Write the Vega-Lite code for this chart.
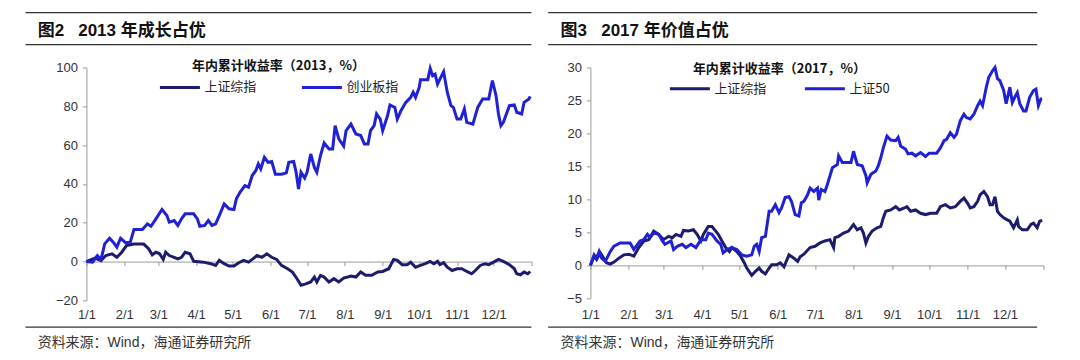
{
"$schema": "https://vega.github.io/schema/vega-lite/v6.json",
"background": "white",
"padding": {"left": 24.4, "top": 11.4, "right": 10, "bottom": 5},
"config": {"view": {"stroke": null}, "font": "Liberation Sans, Noto Sans CJK SC",
  "axis": {"labelFont": "Liberation Sans", "labelFontSize": 13, "labelColor": "#333333", "domainColor": "#9a9a9a", "tickColor": "#9a9a9a", "tickSize": 4, "grid": false, "labelFlush": false, "labelOverlap": false, "title": null, "tickCount": 40}},
"datasets": {
"d2013": [
{"date":"2013-01-01","series":"上证综指","value":0},{"date":"2013-01-08","series":"上证综指","value":1.8},{"date":"2013-01-13","series":"上证综指","value":0.6},{"date":"2013-01-17","series":"上证综指","value":3.1},{"date":"2013-01-22","series":"上证综指","value":4},{"date":"2013-01-26","series":"上证综指","value":2.2},{"date":"2013-01-30","series":"上证综指","value":4.8},{"date":"2013-02-03","series":"上证综指","value":8.3},{"date":"2013-02-09","series":"上证综指","value":9},{"date":"2013-02-17","series":"上证综指","value":9},{"date":"2013-02-21","series":"上证综指","value":6.6},{"date":"2013-02-24","series":"上证综指","value":3.5},{"date":"2013-02-27","series":"上证综指","value":4.8},{"date":"2013-03-02","series":"上证综指","value":4},{"date":"2013-03-05","series":"上证综指","value":1.1},{"date":"2013-03-07","series":"上证综指","value":4.8},{"date":"2013-03-10","series":"上证综指","value":3.1},{"date":"2013-03-14","series":"上证综指","value":2.2},{"date":"2013-03-17","series":"上证综指","value":1.4},{"date":"2013-03-20","series":"上证综指","value":2.2},{"date":"2013-03-23","series":"上证综指","value":4.8},{"date":"2013-03-27","series":"上证综指","value":4},{"date":"2013-03-30","series":"上证综指","value":0.1},{"date":"2013-04-07","series":"上证综指","value":-0.3},{"date":"2013-04-13","series":"上证综指","value":-1.1},{"date":"2013-04-17","series":"上证综指","value":-2},{"date":"2013-04-20","series":"上证综指","value":0.6},{"date":"2013-04-24","series":"上证综指","value":-1.1},{"date":"2013-04-28","series":"上证综指","value":-2.3},{"date":"2013-05-02","series":"上证综指","value":-2.3},{"date":"2013-05-06","series":"上证综指","value":-0.6},{"date":"2013-05-10","series":"上证综指","value":0.6},{"date":"2013-05-14","series":"上证综指","value":-0.3},{"date":"2013-05-17","series":"上证综指","value":1.1},{"date":"2013-05-21","series":"上证综指","value":3.1},{"date":"2013-05-25","series":"上证综指","value":2.2},{"date":"2013-05-29","series":"上证综指","value":4},{"date":"2013-06-02","series":"上证综指","value":2.2},{"date":"2013-06-06","series":"上证综指","value":1.1},{"date":"2013-06-10","series":"上证综指","value":-2},{"date":"2013-06-15","series":"上证综指","value":-3.7},{"date":"2013-06-19","series":"上证综指","value":-5.4},{"date":"2013-06-23","series":"上证综指","value":-9.1},{"date":"2013-06-26","series":"上证综指","value":-12.2},{"date":"2013-06-30","series":"上证综指","value":-11.5},{"date":"2013-07-04","series":"上证综指","value":-10.5},{"date":"2013-07-07","series":"上证综指","value":-8},{"date":"2013-07-09","series":"上证综指","value":-10.5},{"date":"2013-07-12","series":"上证综指","value":-7.1},{"date":"2013-07-15","series":"上证综指","value":-8},{"date":"2013-07-19","series":"上证综指","value":-10.5},{"date":"2013-07-23","series":"上证综指","value":-8.8},{"date":"2013-07-27","series":"上证综指","value":-10.5},{"date":"2013-07-31","series":"上证综指","value":-8.5},{"date":"2013-08-06","series":"上证综指","value":-7.5},{"date":"2013-08-10","series":"上证综指","value":-8},{"date":"2013-08-14","series":"上证综指","value":-5.4},{"date":"2013-08-18","series":"上证综指","value":-7.1},{"date":"2013-08-23","series":"上证综指","value":-7.1},{"date":"2013-08-28","series":"上证综指","value":-5.4},{"date":"2013-09-01","series":"上证综指","value":-5.1},{"date":"2013-09-06","series":"上证综指","value":-3.7},{"date":"2013-09-10","series":"上证综指","value":1.1},{"date":"2013-09-13","series":"上证综指","value":0.6},{"date":"2013-09-17","series":"上证综指","value":-1.6},{"date":"2013-09-21","series":"上证综指","value":-1.6},{"date":"2013-09-24","series":"上证综指","value":-0.3},{"date":"2013-09-28","series":"上证综指","value":-2.9},{"date":"2013-10-02","series":"上证综指","value":-2},{"date":"2013-10-06","series":"上证综指","value":-1.1},{"date":"2013-10-10","series":"上证综指","value":0.1},{"date":"2013-10-13","series":"上证综指","value":-1.1},{"date":"2013-10-16","series":"上证综指","value":0.1},{"date":"2013-10-18","series":"上证综指","value":-1.6},{"date":"2013-10-21","series":"上证综指","value":-0.6},{"date":"2013-10-24","series":"上证综指","value":-2.9},{"date":"2013-10-28","series":"上证综指","value":-4.6},{"date":"2013-11-01","series":"上证综指","value":-3.7},{"date":"2013-11-05","series":"上证综指","value":-3.7},{"date":"2013-11-09","series":"上证综指","value":-5.1},{"date":"2013-11-13","series":"上证综指","value":-6.3},{"date":"2013-11-16","series":"上证综指","value":-4.6},{"date":"2013-11-20","series":"上证综指","value":-2},{"date":"2013-11-24","series":"上证综指","value":-1.1},{"date":"2013-11-27","series":"上证综指","value":-1.6},{"date":"2013-12-01","series":"上证综指","value":-0.3},{"date":"2013-12-05","series":"上证综指","value":1.1},{"date":"2013-12-09","series":"上证综指","value":0.1},{"date":"2013-12-14","series":"上证综指","value":-1.6},{"date":"2013-12-18","series":"上证综指","value":-3.7},{"date":"2013-12-20","series":"上证综指","value":-6.3},{"date":"2013-12-23","series":"上证综指","value":-6.8},{"date":"2013-12-26","series":"上证综指","value":-5.4},{"date":"2013-12-29","series":"上证综指","value":-6.3},{"date":"2013-12-31","series":"上证综指","value":-5.1},
{"date":"2013-01-01","series":"创业板指","value":0},{"date":"2013-01-06","series":"创业板指","value":-0.3},{"date":"2013-01-10","series":"创业板指","value":3.1},{"date":"2013-01-13","series":"创业板指","value":1},{"date":"2013-01-16","series":"创业板指","value":9.1},{"date":"2013-01-20","series":"创业板指","value":12},{"date":"2013-01-23","series":"创业板指","value":10},{"date":"2013-01-26","series":"创业板指","value":7.4},{"date":"2013-01-29","series":"创业板指","value":12},{"date":"2013-02-02","series":"创业板指","value":9.7},{"date":"2013-02-06","series":"创业板指","value":10},{"date":"2013-02-09","series":"创业板指","value":16.5},{"date":"2013-02-16","series":"创业板指","value":16.5},{"date":"2013-02-20","series":"创业板指","value":19.4},{"date":"2013-02-23","series":"创业板指","value":18.2},{"date":"2013-02-27","series":"创业板指","value":22},{"date":"2013-03-04","series":"创业板指","value":26.8},{"date":"2013-03-08","series":"创业板指","value":23.7},{"date":"2013-03-10","series":"创业板指","value":20.3},{"date":"2013-03-14","series":"创业板指","value":21.1},{"date":"2013-03-17","series":"创业板指","value":18.6},{"date":"2013-03-20","series":"创业板指","value":22},{"date":"2013-03-23","series":"创业板指","value":24.6},{"date":"2013-03-30","series":"创业板指","value":24.6},{"date":"2013-04-02","series":"创业板指","value":22},{"date":"2013-04-04","series":"创业板指","value":18.2},{"date":"2013-04-08","series":"创业板指","value":18.6},{"date":"2013-04-11","series":"创业板指","value":21.1},{"date":"2013-04-14","series":"创业板指","value":18.6},{"date":"2013-04-17","series":"创业板指","value":19.4},{"date":"2013-04-20","series":"创业板指","value":23.7},{"date":"2013-04-24","series":"创业板指","value":29.7},{"date":"2013-04-28","series":"创业板指","value":27.2},{"date":"2013-05-02","series":"创业板指","value":26.8},{"date":"2013-05-04","series":"创业板指","value":32.3},{"date":"2013-05-07","series":"创业板指","value":35.7},{"date":"2013-05-11","series":"创业板指","value":39.1},{"date":"2013-05-14","series":"创业板指","value":38.3},{"date":"2013-05-17","series":"创业板指","value":44.3},{"date":"2013-05-20","series":"创业板指","value":46.9},{"date":"2013-05-22","series":"创业板指","value":50.3},{"date":"2013-05-24","series":"创业板指","value":47.7},{"date":"2013-05-27","series":"创业板指","value":53.7},{"date":"2013-05-30","series":"创业板指","value":51.1},{"date":"2013-06-02","series":"创业板指","value":51.5},{"date":"2013-06-05","series":"创业板指","value":45},{"date":"2013-06-10","series":"创业板指","value":45},{"date":"2013-06-14","series":"创业板指","value":45.7},{"date":"2013-06-16","series":"创业板指","value":51.1},{"date":"2013-06-20","series":"创业板指","value":51.5},{"date":"2013-06-22","series":"创业板指","value":46},{"date":"2013-06-24","series":"创业板指","value":37.4},{"date":"2013-06-26","series":"创业板指","value":46},{"date":"2013-06-29","series":"创业板指","value":43},{"date":"2013-07-01","series":"创业板指","value":46},{"date":"2013-07-04","series":"创业板指","value":55.4},{"date":"2013-07-07","series":"创业板指","value":48.5},{"date":"2013-07-09","series":"创业板指","value":46},{"date":"2013-07-12","series":"创业板指","value":54.6},{"date":"2013-07-15","series":"创业板指","value":61.1},{"date":"2013-07-19","series":"创业板指","value":58},{"date":"2013-07-22","series":"创业板指","value":58},{"date":"2013-07-24","series":"创业板指","value":70},{"date":"2013-07-27","series":"创业板指","value":63.2},{"date":"2013-07-31","series":"创业板指","value":59.5},{"date":"2013-08-02","series":"创业板指","value":67.4},{"date":"2013-08-06","series":"创业板指","value":70.8},{"date":"2013-08-10","series":"创业板指","value":65.7},{"date":"2013-08-14","series":"创业板指","value":64.9},{"date":"2013-08-17","series":"创业板指","value":60.6},{"date":"2013-08-20","series":"创业板指","value":60.6},{"date":"2013-08-22","series":"创业板指","value":67.4},{"date":"2013-08-25","series":"创业板指","value":70},{"date":"2013-08-27","series":"创业板指","value":76},{"date":"2013-08-30","series":"创业板指","value":73.4},{"date":"2013-09-01","series":"创业板指","value":67.4},{"date":"2013-09-05","series":"创业板指","value":75.1},{"date":"2013-09-07","series":"创业板指","value":80.7},{"date":"2013-09-11","series":"创业板指","value":79.4},{"date":"2013-09-13","series":"创业板指","value":73.4},{"date":"2013-09-16","series":"创业板指","value":77.7},{"date":"2013-09-20","series":"创业板指","value":82},{"date":"2013-09-24","series":"创业板指","value":84.6},{"date":"2013-09-26","series":"创业板指","value":87.2},{"date":"2013-09-28","series":"创业板指","value":84.6},{"date":"2013-10-01","series":"创业板指","value":89.7},{"date":"2013-10-02","series":"创业板指","value":93.7},{"date":"2013-10-08","series":"创业板指","value":93.7},{"date":"2013-10-10","series":"创业板指","value":99.5},{"date":"2013-10-12","series":"创业板指","value":95.7},{"date":"2013-10-14","series":"创业板指","value":96.5},{"date":"2013-10-16","series":"创业板指","value":91.4},{"date":"2013-10-18","series":"创业板指","value":94},{"date":"2013-10-21","series":"创业板指","value":97.8},{"date":"2013-10-24","series":"创业板指","value":87.2},{"date":"2013-10-27","series":"创业板指","value":80.3},{"date":"2013-10-29","series":"创业板指","value":79.4},{"date":"2013-11-01","series":"创业板指","value":73.4},{"date":"2013-11-04","series":"创业板指","value":73.4},{"date":"2013-11-07","series":"创业板指","value":78.6},{"date":"2013-11-09","series":"创业板指","value":71.7},{"date":"2013-11-14","series":"创业板指","value":70.8},{"date":"2013-11-18","series":"创业板指","value":79.4},{"date":"2013-11-22","series":"创业板指","value":83.7},{"date":"2013-11-27","series":"创业板指","value":83.7},{"date":"2013-11-30","series":"创业板指","value":93.2},{"date":"2013-12-03","series":"创业板指","value":85.4},{"date":"2013-12-05","series":"创业板指","value":76},{"date":"2013-12-07","series":"创业板指","value":70},{"date":"2013-12-09","series":"创业板指","value":71.7},{"date":"2013-12-14","series":"创业板指","value":80.3},{"date":"2013-12-18","series":"创业板指","value":80.7},{"date":"2013-12-20","series":"创业板指","value":76.9},{"date":"2013-12-24","series":"创业板指","value":76},{"date":"2013-12-26","series":"创业板指","value":82},{"date":"2013-12-30","series":"创业板指","value":83.7},{"date":"2013-12-31","series":"创业板指","value":85.1}
],
"d2017": [
{"date":"2017-01-01","series":"上证综指","value":0},{"date":"2017-01-04","series":"上证综指","value":1.4},{"date":"2017-01-06","series":"上证综指","value":0.9},{"date":"2017-01-09","series":"上证综指","value":1.9},{"date":"2017-01-12","series":"上证综指","value":1},{"date":"2017-01-14","series":"上证综指","value":0.4},{"date":"2017-01-17","series":"上证综指","value":0.2},{"date":"2017-01-20","series":"上证综指","value":0.5},{"date":"2017-01-24","series":"上证综指","value":1.1},{"date":"2017-01-28","series":"上证综指","value":1.6},{"date":"2017-02-01","series":"上证综指","value":1.7},{"date":"2017-02-05","series":"上证综指","value":1.4},{"date":"2017-02-09","series":"上证综指","value":2.7},{"date":"2017-02-13","series":"上证综指","value":3.7},{"date":"2017-02-17","series":"上证综指","value":3.9},{"date":"2017-02-21","series":"上证综指","value":5.2},{"date":"2017-02-25","series":"上证综指","value":4.7},{"date":"2017-03-01","series":"上证综指","value":3.9},{"date":"2017-03-05","series":"上证综指","value":4.4},{"date":"2017-03-08","series":"上证综指","value":4.2},{"date":"2017-03-11","series":"上证综指","value":4.7},{"date":"2017-03-15","series":"上证综指","value":4.4},{"date":"2017-03-17","series":"上证综指","value":5.3},{"date":"2017-03-21","series":"上证综指","value":5.2},{"date":"2017-03-25","series":"上证综指","value":5.4},{"date":"2017-03-28","series":"上证综指","value":4.7},{"date":"2017-03-31","series":"上证综指","value":3.7},{"date":"2017-04-02","series":"上证综指","value":4.7},{"date":"2017-04-06","series":"上证综指","value":5.9},{"date":"2017-04-09","series":"上证综指","value":5.9},{"date":"2017-04-12","series":"上证综指","value":5.2},{"date":"2017-04-14","series":"上证综指","value":4.7},{"date":"2017-04-17","series":"上证综指","value":3.7},{"date":"2017-04-20","series":"上证综指","value":2.7},{"date":"2017-04-23","series":"上证综指","value":2.1},{"date":"2017-04-25","series":"上证综指","value":2.7},{"date":"2017-04-29","series":"上证综指","value":2.1},{"date":"2017-05-02","series":"上证综指","value":1.4},{"date":"2017-05-05","series":"上证综指","value":0.4},{"date":"2017-05-07","series":"上证综指","value":-0.4},{"date":"2017-05-11","series":"上证综指","value":-1.5},{"date":"2017-05-14","series":"上证综指","value":-0.9},{"date":"2017-05-17","series":"上证综指","value":-0.4},{"date":"2017-05-19","series":"上证综指","value":-0.9},{"date":"2017-05-22","series":"上证综指","value":-1.3},{"date":"2017-05-25","series":"上证综指","value":-0.4},{"date":"2017-05-27","series":"上证综指","value":0.1},{"date":"2017-05-31","series":"上证综指","value":0.1},{"date":"2017-06-03","series":"上证综指","value":0.4},{"date":"2017-06-06","series":"上证综指","value":-0.2},{"date":"2017-06-10","series":"上证综指","value":1.6},{"date":"2017-06-14","series":"上证综指","value":1.1},{"date":"2017-06-17","series":"上证综指","value":0.6},{"date":"2017-06-19","series":"上证综指","value":1.3},{"date":"2017-06-22","series":"上证综指","value":1.7},{"date":"2017-06-27","series":"上证综指","value":2.7},{"date":"2017-07-01","series":"上证综指","value":2.9},{"date":"2017-07-05","series":"上证综指","value":3.4},{"date":"2017-07-09","series":"上证综指","value":3.7},{"date":"2017-07-13","series":"上证综指","value":3.9},{"date":"2017-07-16","series":"上证综指","value":2.7},{"date":"2017-07-17","series":"上证综指","value":4.2},{"date":"2017-07-20","series":"上证综指","value":4.4},{"date":"2017-07-24","series":"上证综指","value":4.9},{"date":"2017-07-28","series":"上证综指","value":5.2},{"date":"2017-08-01","series":"上证综指","value":6.2},{"date":"2017-08-04","series":"上证综指","value":5.4},{"date":"2017-08-07","series":"上证综指","value":5.7},{"date":"2017-08-09","series":"上证综指","value":4.9},{"date":"2017-08-11","series":"上证综指","value":3.4},{"date":"2017-08-13","series":"上证综指","value":4.4},{"date":"2017-08-16","series":"上证综指","value":5.2},{"date":"2017-08-20","series":"上证综指","value":5.7},{"date":"2017-08-23","series":"上证综指","value":5.9},{"date":"2017-08-25","series":"上证综指","value":7.2},{"date":"2017-08-27","series":"上证综指","value":8.2},{"date":"2017-08-31","series":"上证综指","value":8.4},{"date":"2017-09-04","series":"上证综指","value":8.9},{"date":"2017-09-07","series":"上证综指","value":8.4},{"date":"2017-09-11","series":"上证综指","value":8.7},{"date":"2017-09-13","series":"上证综指","value":8.9},{"date":"2017-09-16","series":"上证综指","value":8.2},{"date":"2017-09-20","series":"上证综指","value":8.4},{"date":"2017-09-24","series":"上证综指","value":7.9},{"date":"2017-09-28","series":"上证综指","value":7.7},{"date":"2017-10-02","series":"上证综指","value":7.9},{"date":"2017-10-07","series":"上证综指","value":7.9},{"date":"2017-10-10","series":"上证综指","value":8.9},{"date":"2017-10-14","series":"上证综指","value":9.2},{"date":"2017-10-18","series":"上证综指","value":8.7},{"date":"2017-10-22","series":"上证综指","value":8.9},{"date":"2017-10-26","series":"上证综指","value":9.7},{"date":"2017-10-29","series":"上证综指","value":10.2},{"date":"2017-11-01","series":"上证综指","value":9.4},{"date":"2017-11-03","series":"上证综指","value":8.7},{"date":"2017-11-06","series":"上证综指","value":8.9},{"date":"2017-11-09","series":"上证综指","value":9.7},{"date":"2017-11-11","series":"上证综指","value":10.7},{"date":"2017-11-14","series":"上证综指","value":11.2},{"date":"2017-11-17","series":"上证综指","value":10.4},{"date":"2017-11-19","series":"上证综指","value":9.2},{"date":"2017-11-21","series":"上证综指","value":9.2},{"date":"2017-11-23","series":"上证综指","value":10.4},{"date":"2017-11-25","series":"上证综指","value":8.2},{"date":"2017-11-27","series":"上证综指","value":7.7},{"date":"2017-11-30","series":"上证综指","value":7.2},{"date":"2017-12-03","series":"上证综指","value":6.9},{"date":"2017-12-05","series":"上证综指","value":6.7},{"date":"2017-12-08","series":"上证综指","value":5.7},{"date":"2017-12-11","series":"上证综指","value":6.9},{"date":"2017-12-12","series":"上证综指","value":5.9},{"date":"2017-12-15","series":"上证综指","value":5.4},{"date":"2017-12-19","series":"上证综指","value":5.4},{"date":"2017-12-22","series":"上证综指","value":6.2},{"date":"2017-12-24","series":"上证综指","value":6.4},{"date":"2017-12-27","series":"上证综指","value":5.7},{"date":"2017-12-29","series":"上证综指","value":6.7},{"date":"2017-12-31","series":"上证综指","value":6.8},
{"date":"2017-01-01","series":"上证50","value":0},{"date":"2017-01-04","series":"上证50","value":1.6},{"date":"2017-01-06","series":"上证50","value":1.1},{"date":"2017-01-08","series":"上证50","value":2.1},{"date":"2017-01-10","series":"上证50","value":1.1},{"date":"2017-01-13","series":"上证50","value":0.6},{"date":"2017-01-17","series":"上证50","value":2.1},{"date":"2017-01-20","series":"上证50","value":2.9},{"date":"2017-01-25","series":"上证50","value":3.4},{"date":"2017-02-02","series":"上证50","value":3.4},{"date":"2017-02-05","series":"上证50","value":2.4},{"date":"2017-02-08","series":"上证50","value":3.2},{"date":"2017-02-10","series":"上证50","value":3.7},{"date":"2017-02-13","series":"上证50","value":3.9},{"date":"2017-02-16","series":"上证50","value":4.7},{"date":"2017-02-18","series":"上证50","value":4.2},{"date":"2017-02-21","series":"上证50","value":4.9},{"date":"2017-02-25","series":"上证50","value":4.7},{"date":"2017-02-28","series":"上证50","value":3.7},{"date":"2017-03-02","series":"上证50","value":3.2},{"date":"2017-03-07","series":"上证50","value":3.7},{"date":"2017-03-09","series":"上证50","value":2.4},{"date":"2017-03-12","series":"上证50","value":2.9},{"date":"2017-03-16","series":"上证50","value":3.2},{"date":"2017-03-19","series":"上证50","value":2.7},{"date":"2017-03-23","series":"上证50","value":3.2},{"date":"2017-03-27","series":"上证50","value":2.7},{"date":"2017-03-31","series":"上证50","value":3.9},{"date":"2017-04-04","series":"上证50","value":3.9},{"date":"2017-04-06","series":"上证50","value":4.9},{"date":"2017-04-09","series":"上证50","value":4.7},{"date":"2017-04-13","series":"上证50","value":3.7},{"date":"2017-04-16","series":"上证50","value":3.2},{"date":"2017-04-18","series":"上证50","value":1.9},{"date":"2017-04-21","series":"上证50","value":2.4},{"date":"2017-04-25","series":"上证50","value":2.7},{"date":"2017-04-29","series":"上证50","value":2.4},{"date":"2017-05-03","series":"上证50","value":1.6},{"date":"2017-05-07","series":"上证50","value":1.4},{"date":"2017-05-11","series":"上证50","value":1.6},{"date":"2017-05-13","series":"上证50","value":2.9},{"date":"2017-05-15","series":"上证50","value":3.2},{"date":"2017-05-17","series":"上证50","value":2.1},{"date":"2017-05-19","series":"上证50","value":4.2},{"date":"2017-05-22","series":"上证50","value":4.4},{"date":"2017-05-25","series":"上证50","value":8.2},{"date":"2017-05-27","series":"上证50","value":8.2},{"date":"2017-05-30","series":"上证50","value":9.2},{"date":"2017-06-02","series":"上证50","value":8},{"date":"2017-06-04","series":"上证50","value":8.7},{"date":"2017-06-07","series":"上证50","value":10.3},{"date":"2017-06-10","series":"上证50","value":10.4},{"date":"2017-06-12","series":"上证50","value":9.7},{"date":"2017-06-15","series":"上证50","value":7.7},{"date":"2017-06-18","series":"上证50","value":7.5},{"date":"2017-06-20","series":"上证50","value":9.5},{"date":"2017-06-22","series":"上证50","value":9.7},{"date":"2017-06-25","series":"上证50","value":10.7},{"date":"2017-06-27","series":"上证50","value":11.7},{"date":"2017-06-30","series":"上证50","value":11.2},{"date":"2017-07-03","series":"上证50","value":11.7},{"date":"2017-07-04","series":"上证50","value":9.9},{"date":"2017-07-06","series":"上证50","value":11.5},{"date":"2017-07-09","series":"上证50","value":11.2},{"date":"2017-07-11","series":"上证50","value":12.3},{"date":"2017-07-15","series":"上证50","value":14.8},{"date":"2017-07-19","series":"上证50","value":15.3},{"date":"2017-07-20","series":"上证50","value":16.6},{"date":"2017-07-23","series":"上证50","value":15.6},{"date":"2017-07-27","series":"上证50","value":15.6},{"date":"2017-07-30","series":"上证50","value":15.6},{"date":"2017-08-01","series":"上证50","value":17.3},{"date":"2017-08-04","series":"上证50","value":15.3},{"date":"2017-08-08","series":"上证50","value":15.1},{"date":"2017-08-11","series":"上证50","value":13.6},{"date":"2017-08-12","series":"上证50","value":12.5},{"date":"2017-08-15","series":"上证50","value":13.8},{"date":"2017-08-19","series":"上证50","value":14.3},{"date":"2017-08-21","series":"上证50","value":15.1},{"date":"2017-08-23","series":"上证50","value":16.3},{"date":"2017-08-25","series":"上证50","value":17.8},{"date":"2017-08-28","series":"上证50","value":19.6},{"date":"2017-08-31","series":"上证50","value":19},{"date":"2017-09-04","series":"上证50","value":18.9},{"date":"2017-09-06","series":"上证50","value":19.4},{"date":"2017-09-08","series":"上证50","value":18.1},{"date":"2017-09-12","series":"上证50","value":17.6},{"date":"2017-09-14","series":"上证50","value":16.9},{"date":"2017-09-17","series":"上证50","value":17},{"date":"2017-09-20","series":"上证50","value":16.6},{"date":"2017-09-24","series":"上证50","value":17.1},{"date":"2017-09-28","series":"上证50","value":16.5},{"date":"2017-10-01","series":"上证50","value":17},{"date":"2017-10-07","series":"上证50","value":17},{"date":"2017-10-10","series":"上证50","value":17.8},{"date":"2017-10-13","series":"上证50","value":18.9},{"date":"2017-10-15","series":"上证50","value":19.1},{"date":"2017-10-18","series":"上证50","value":20.1},{"date":"2017-10-21","series":"上证50","value":19.4},{"date":"2017-10-23","series":"上证50","value":19.9},{"date":"2017-10-26","series":"上证50","value":21.9},{"date":"2017-10-29","series":"上证50","value":22.9},{"date":"2017-10-31","series":"上证50","value":22.4},{"date":"2017-11-03","series":"上证50","value":22.2},{"date":"2017-11-06","series":"上证50","value":22.9},{"date":"2017-11-09","series":"上证50","value":24.2},{"date":"2017-11-11","series":"上证50","value":24.9},{"date":"2017-11-13","series":"上证50","value":24.2},{"date":"2017-11-16","series":"上证50","value":27},{"date":"2017-11-18","series":"上证50","value":28.5},{"date":"2017-11-21","series":"上证50","value":29.5},{"date":"2017-11-23","series":"上证50","value":30},{"date":"2017-11-25","series":"上证50","value":28.3},{"date":"2017-11-27","series":"上证50","value":28},{"date":"2017-11-30","series":"上证50","value":26.5},{"date":"2017-12-02","series":"上证50","value":24.5},{"date":"2017-12-05","series":"上证50","value":27},{"date":"2017-12-07","series":"上证50","value":24.7},{"date":"2017-12-09","series":"上证50","value":25.5},{"date":"2017-12-11","series":"上证50","value":26.2},{"date":"2017-12-13","series":"上证50","value":24.5},{"date":"2017-12-16","series":"上证50","value":23.4},{"date":"2017-12-18","series":"上证50","value":23.4},{"date":"2017-12-21","series":"上证50","value":25.5},{"date":"2017-12-24","series":"上证50","value":26.5},{"date":"2017-12-26","series":"上证50","value":26.7},{"date":"2017-12-28","series":"上证50","value":24.2},{"date":"2017-12-30","series":"上证50","value":25.2},{"date":"2017-12-31","series":"上证50","value":25.2}
]
},
"hconcat": [
{
"width": 445, "height": 233,
"layer": [
{"data": {"name": "d2013"},
 "mark": {"type": "line", "strokeWidth": 3},
 "encoding": {
  "x": {"field": "date", "type": "temporal",
    "scale": {"type": "utc", "nice": false, "domain": [{"year":2013,"month":1,"date":1,"utc":true},{"year":2014,"month":1,"date":1,"utc":true}]},
    "axis": {"offset": -38.8, "labelPadding": 43, "labelOverlap": false, "labelFlush": false, "labelBound": false, "tickCount": 40,
      "values": [{"year":2013,"month":1,"date":1,"utc":true},{"year":2013,"month":2,"date":1,"utc":true},{"year":2013,"month":3,"date":1,"utc":true},{"year":2013,"month":4,"date":1,"utc":true},{"year":2013,"month":5,"date":1,"utc":true},{"year":2013,"month":6,"date":1,"utc":true},{"year":2013,"month":7,"date":1,"utc":true},{"year":2013,"month":8,"date":1,"utc":true},{"year":2013,"month":9,"date":1,"utc":true},{"year":2013,"month":10,"date":1,"utc":true},{"year":2013,"month":11,"date":1,"utc":true},{"year":2013,"month":12,"date":1,"utc":true},{"year":2014,"month":1,"date":1,"utc":true}],
      "labelExpr": "utcyear(datum.value) > 2013 ? '' : utcFormat(datum.value, '%-m/%-d')"}},
  "y": {"field": "value", "type": "quantitative",
    "scale": {"domain": [-20, 100], "nice": false, "zero": false},
    "axis": {"values": [-20, 0, 20, 40, 60, 80, 100], "labelPadding": 5, "labelOverlap": false, "labelFlush": false, "labelBound": false, "tickCount": 40}},
  "color": {"field": "series", "type": "nominal",
    "scale": {"domain": ["上证综指", "创业板指"], "range": ["#1c1c6e", "#2020d4"]},
    "legend": {"title": "年内累计收益率（2013，%）", "orient": "none", "legendX": 72, "legendY": -7.7, "direction": "horizontal",
      "titleAnchor": "middle", "titleOrient": "top", "titleFont": "Noto Sans CJK SC", "titleFontSize": 13, "titleFontWeight": "bold", "titleColor": "#111111", "titlePadding": -7, "titleLimit": 400,
      "labelFont": "Noto Sans CJK SC", "labelFontSize": 13, "labelColor": "#222222", "symbolType": "stroke", "symbolSize": 1600, "symbolStrokeWidth": 3, "labelOffset": 3, "columnPadding": 38, "padding": 0}}
 }},
{"data": {"values": [{}]}, "mark": {"type": "rule", "color": "#333333", "strokeWidth": 1.3},
 "encoding": {"x": {"datum": {"year":2012,"month":11,"date":12,"utc":true}, "type": "temporal"}, "x2": {"datum": {"year":2014,"month":1,"date":1,"utc":true}}, "y": {"datum": 128.2, "type": "quantitative"}}},
{"data": {"values": [{}]}, "mark": {"type": "rule", "color": "#333333", "strokeWidth": 1.3},
 "encoding": {"x": {"datum": {"year":2012,"month":11,"date":12,"utc":true}, "type": "temporal"}, "x2": {"datum": {"year":2014,"month":1,"date":1,"utc":true}}, "y": {"datum": 111.7, "type": "quantitative"}}},
{"data": {"values": [{}]}, "mark": {"type": "rule", "color": "#333333", "strokeWidth": 1.3},
 "encoding": {"x": {"datum": {"year":2012,"month":11,"date":12,"utc":true}, "type": "temporal"}, "x2": {"datum": {"year":2014,"month":1,"date":1,"utc":true}}, "y": {"datum": -33.8, "type": "quantitative"}}},
{"data": {"values": [{}]}, "mark": {"type": "text", "text": "图2\u00a0\u00a0\u00a02013\u00a0年成长占优", "align": "left", "baseline": "middle", "fontSize": 17, "fontWeight": "bold", "color": "#111111", "font": "Liberation Sans, Noto Sans CJK SC"},
 "encoding": {"x": {"datum": {"year":2012,"month":11,"date":22,"utc":true}, "type": "temporal"}, "y": {"datum": 118.9, "type": "quantitative"}}},
{"data": {"values": [{}]}, "mark": {"type": "text", "text": "资料来源：Wind，海通证券研究所", "align": "left", "baseline": "middle", "fontSize": 14, "color": "#333333", "font": "Liberation Sans, Noto Sans CJK SC"},
 "encoding": {"x": {"datum": {"year":2012,"month":11,"date":22,"utc":true}, "type": "temporal"}, "y": {"datum": -41.8, "type": "quantitative"}}}
]
},
{
"width": 453, "height": 231,
"layer": [
{"data": {"name": "d2017"},
 "mark": {"type": "line", "strokeWidth": 3},
 "encoding": {
  "x": {"field": "date", "type": "temporal",
    "scale": {"type": "utc", "nice": false, "domain": [{"year":2017,"month":1,"date":1,"utc":true},{"year":2018,"month":1,"date":1,"utc":true}]},
    "axis": {"offset": -33, "labelPadding": 39.3, "labelOverlap": false, "labelFlush": false, "labelBound": false, "tickCount": 40,
      "values": [{"year":2017,"month":1,"date":1,"utc":true},{"year":2017,"month":2,"date":1,"utc":true},{"year":2017,"month":3,"date":1,"utc":true},{"year":2017,"month":4,"date":1,"utc":true},{"year":2017,"month":5,"date":1,"utc":true},{"year":2017,"month":6,"date":1,"utc":true},{"year":2017,"month":7,"date":1,"utc":true},{"year":2017,"month":8,"date":1,"utc":true},{"year":2017,"month":9,"date":1,"utc":true},{"year":2017,"month":10,"date":1,"utc":true},{"year":2017,"month":11,"date":1,"utc":true},{"year":2017,"month":12,"date":1,"utc":true},{"year":2018,"month":1,"date":1,"utc":true}],
      "labelExpr": "utcyear(datum.value) > 2017 ? '' : utcFormat(datum.value, '%-m/%-d')"}},
  "y": {"field": "value", "type": "quantitative",
    "scale": {"domain": [-5, 30], "nice": false, "zero": false},
    "axis": {"values": [-5, 0, 5, 10, 15, 20, 25, 30], "labelPadding": 5, "labelOverlap": false, "labelFlush": false, "labelBound": false, "tickCount": 40}},
  "color": {"field": "series", "type": "nominal",
    "scale": {"domain": ["上证综指", "上证50"], "range": ["#1c1c6e", "#2020d4"]},
    "legend": {"title": "年内累计收益率（2017，%）", "orient": "none", "legendX": 78, "legendY": -4.5, "direction": "horizontal",
      "titleAnchor": "middle", "titleOrient": "top", "titleFont": "Noto Sans CJK SC", "titleFontSize": 13, "titleFontWeight": "bold", "titleColor": "#111111", "titlePadding": -9, "titleLimit": 400,
      "labelFont": "Noto Sans CJK SC", "labelFontSize": 13, "labelColor": "#222222", "symbolType": "stroke", "symbolSize": 1600, "symbolStrokeWidth": 3, "labelOffset": 3, "columnPadding": 31, "padding": 0}}
 }},
{"data": {"values": [{}]}, "mark": {"type": "rule", "color": "#333333", "strokeWidth": 1.3},
 "encoding": {"x": {"datum": {"year":2016,"month":11,"date":28,"utc":true}, "type": "temporal"}, "x2": {"datum": {"year":2017,"month":12,"date":27,"utc":true}}, "y": {"datum": 38.29, "type": "quantitative"}}},
{"data": {"values": [{}]}, "mark": {"type": "rule", "color": "#333333", "strokeWidth": 1.3},
 "encoding": {"x": {"datum": {"year":2016,"month":11,"date":28,"utc":true}, "type": "temporal"}, "x2": {"datum": {"year":2017,"month":12,"date":27,"utc":true}}, "y": {"datum": 33.44, "type": "quantitative"}}},
{"data": {"values": [{}]}, "mark": {"type": "rule", "color": "#333333", "strokeWidth": 1.3},
 "encoding": {"x": {"datum": {"year":2016,"month":11,"date":28,"utc":true}, "type": "temporal"}, "x2": {"datum": {"year":2017,"month":12,"date":27,"utc":true}}, "y": {"datum": -9.36, "type": "quantitative"}}},
{"data": {"values": [{}]}, "mark": {"type": "text", "text": "图3\u00a0\u00a0\u00a02017\u00a0年价值占优", "align": "left", "baseline": "middle", "fontSize": 17, "fontWeight": "bold", "color": "#111111", "font": "Liberation Sans, Noto Sans CJK SC"},
 "encoding": {"x": {"datum": {"year":2016,"month":12,"date":8,"utc":true}, "type": "temporal"}, "y": {"datum": 35.56, "type": "quantitative"}}},
{"data": {"values": [{}]}, "mark": {"type": "text", "text": "资料来源：Wind，海通证券研究所", "align": "left", "baseline": "middle", "fontSize": 14, "color": "#333333", "font": "Liberation Sans, Noto Sans CJK SC"},
 "encoding": {"x": {"datum": {"year":2016,"month":12,"date":8,"utc":true}, "type": "temporal"}, "y": {"datum": -11.71, "type": "quantitative"}}}
]
}
],
"spacing": 59,
"bounds": "flush",
"resolve": {"scale": {"x": "independent", "y": "independent", "color": "independent"}, "legend": {"color": "independent"}}
}
